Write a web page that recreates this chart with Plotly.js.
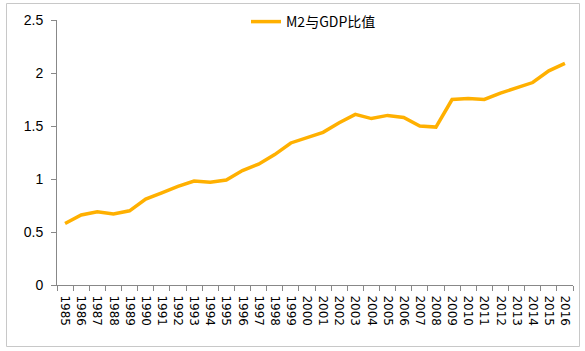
<!DOCTYPE html>
<html>
<head>
<meta charset="utf-8">
<script src="https://cdn.plot.ly/plotly-3.0.1.min.js"></script>
<style>
html,body{margin:0;padding:0;background:#fff;}
#chart{width:585px;height:351px;}
</style>
</head>
<body>
<div id="chart"></div>
<script>
const years = ['1985','1986','1987','1988','1989','1990','1991','1992','1993','1994','1995','1996','1997','1998','1999','2000','2001','2002','2003','2004','2005','2006','2007','2008','2009','2010','2011','2012','2013','2014','2015','2016'];
const ratio = [0.58,0.66,0.69,0.67,0.70,0.81,0.87,0.93,0.98,0.97,0.99,1.08,1.14,1.23,1.34,1.39,1.44,1.53,1.61,1.57,1.60,1.58,1.50,1.49,1.75,1.76,1.75,1.81,1.86,1.91,2.02,2.09];
const yTicks = [0,0.5,1,1.5,2,2.5];
const yTickLabels = ['0','0.5','1','1.5','2','2.5'];
const seriesName = 'M2与GDP比值';

const L = 57, R = 12, T = 20, B = 66, W = 585, H = 351;
const pw = W - L - R, ph = H - T - B;
const px = v => (v - L) / pw;
const py = v => (H - B - v) / ph;

const trace = {
  x: years, y: ratio, type: 'scatter', mode: 'lines', name: seriesName,
  line: {color: '#FFB000', width: 3.5}
};
const layout = {
  width: W, height: H,
  margin: {l: L, r: R, t: T, b: B, pad: 0, autoexpand: false},
  paper_bgcolor: '#fff', plot_bgcolor: '#fff',
  showlegend: true,
  legend: {xref: 'container', yref: 'container', x: 246 / W, y: 1 - 22 / H, xanchor: 'left', yanchor: 'middle', orientation: 'h',
    font: {family: 'Noto Sans CJK SC, sans-serif', size: 14, color: '#000'}, bgcolor: 'rgba(0,0,0,0)'},
  xaxis: {
    type: 'category', tickangle: 90, tickson: 'boundaries', ticks: 'outside', ticklen: 5,
    tickcolor: '#888', showline: true, linecolor: '#888', linewidth: 1, showgrid: false,
    tickfont: {family: 'DejaVu Sans, sans-serif', size: 12, color: '#000'}, zeroline: false,
    ticklabelstandoff: 7, automargin: false,
    range: [-0.5, years.length - 0.5]
  },
  yaxis: {
    range: [0, 2.5], tickvals: yTicks, ticktext: yTickLabels, ticks: 'outside', ticklen: 5,
    tickcolor: '#888', showline: true, linecolor: '#888', linewidth: 1, showgrid: false,
    ticklabelstandoff: 5, automargin: false,
    zeroline: false, tickfont: {family: 'Liberation Sans, sans-serif', size: 14, color: '#000'}
  },
  shapes: [{type: 'rect', xref: 'paper', yref: 'paper', x0: px(6.5), x1: px(579.5), y0: py(3.5), y1: py(346.5),
    line: {color: '#c8c8c8', width: 1}, fillcolor: 'rgba(0,0,0,0)', layer: 'below'}]
};
Plotly.newPlot('chart', [trace], layout, {displayModeBar: false, staticPlot: true});
</script>
</body>
</html>
